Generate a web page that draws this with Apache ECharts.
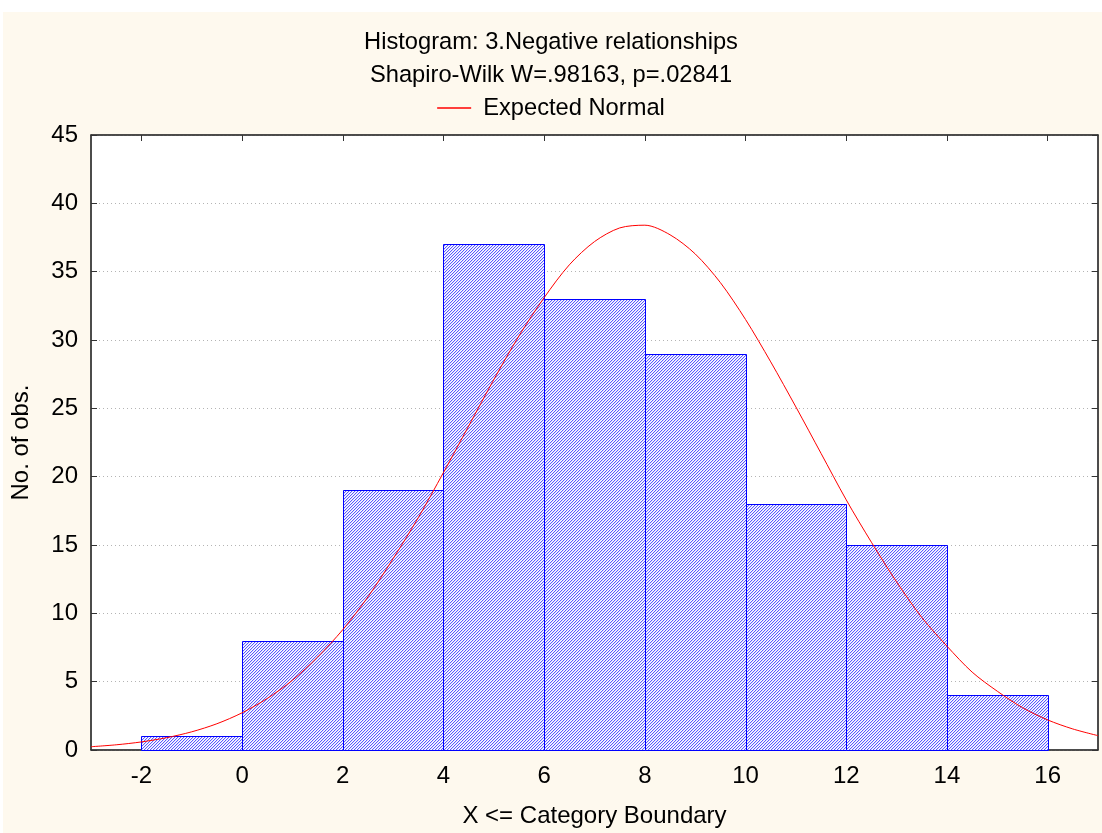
<!DOCTYPE html>
<html>
<head>
<meta charset="utf-8">
<script src="https://cdn.jsdelivr.net/npm/echarts@6/dist/echarts.min.js"></script>
<style>
html,body{margin:0;padding:0;background:#ffffff;}
#c{width:1102px;height:833px;}
</style>
</head>
<body>
<div id="c"></div>
<script>
// Histogram bins: [lower boundary, upper boundary, count]
const binLower = [-2, 0, 2, 4, 6, 8, 10, 12, 14];
const binUpper = [0, 2, 4, 6, 8, 10, 12, 14, 16];
const binCounts = [1, 8, 19, 37, 33, 29, 18, 15, 4];

// Expected normal curve
const curveX = [-3, -2.5, -2, -1.5, -1, -0.5, 0, 0.5, 1, 1.5, 2, 2.5, 3, 3.5, 4, 4.5, 5, 5.5, 6, 6.5, 7, 7.5, 8,
                8.5, 9, 9.5, 10, 10.5, 11, 11.5, 12, 12.5, 13, 13.5, 14, 14.5, 15, 15.5, 16, 16.5, 17];
const curveY = [0.24, 0.38, 0.59, 0.9, 1.33, 1.92, 2.72, 3.77, 5.1, 6.8, 8.8, 11.2, 14.0, 17.0, 20.3, 23.7, 27.1, 30.3, 33.1, 35.5, 37.2, 38.2, 38.4,
                37.7, 36.3, 34.2, 31.5, 28.4, 25.1, 21.7, 18.3, 15.2, 12.3, 9.7, 7.6, 5.7, 4.3, 3.1, 2.2, 1.54, 1.05];

const xTicks = [-2, 0, 2, 4, 6, 8, 10, 12, 14, 16];
const yTicks = [0, 5, 10, 15, 20, 25, 30, 35, 40, 45];

const titleText = 'Histogram: 3.Negative relationships';
const subText = 'Shapiro-Wilk W=.98163, p=.02841';
const legendName = 'Expected Normal';
const xName = 'X <= Category Boundary';
const yName = 'No. of obs.';

// hatch pattern (3px diagonal stripes)
const tile = document.createElement('canvas');
tile.width = 3; tile.height = 3;
const tc = tile.getContext('2d');
tc.fillStyle = '#ffffff';
tc.fillRect(0, 0, 3, 3);
tc.fillStyle = '#5a5aff';
for (let y = 0; y < 3; y++) {
  const x = (2 - y + 3) % 3;
  tc.fillRect(x, y, 1, 1);
}
tc.fillStyle = '#dcdcff';
for (let y = 0; y < 3; y++) {
  const x = (3 - y + 3) % 3;
  tc.fillRect(x, y, 1, 1);
}
const hatch = {image: tile, repeat: 'repeat'};

const bins = binLower.map((l, i) => [l, binUpper[i], binCounts[i]]);
const curve = curveX.map((x, i) => [x, curveY[i]]);

const fontFam = '"Liberation Sans", Arial, sans-serif';
const axisColor = '#333333';
const chart = echarts.init(document.getElementById('c'));
chart.setOption({
  backgroundColor: '#fef9ee',
  animation: false,
  textStyle: {fontFamily: fontFam},
  graphic: [{type: 'rect', shape: {x: 0, y: 0, width: 1102, height: 12}, style: {fill: '#ffffff'}, silent: true, z: -1},
            {type: 'rect', shape: {x: 0, y: 0, width: 3, height: 833}, style: {fill: '#ffffff'}, silent: true, z: -1}],
  title: [
    {text: titleText, left: 'center', top: 25, textStyle: {fontSize: 23.7, fontWeight: 'normal', color: '#000', fontFamily: fontFam}},
    {text: subText, left: 'center', top: 58, textStyle: {fontSize: 23.7, fontWeight: 'normal', color: '#000', fontFamily: fontFam}}
  ],
  legend: {
    data: [{name: legendName, icon: 'rect'}],
    top: 91, left: 'center',
    itemWidth: 34, itemHeight: 1.3, itemGap: 10,
    textStyle: {fontSize: 23.7, color: '#000', fontFamily: fontFam, padding: [0, 0, 0, 7]}
  },
  grid: {left: 91, right: 4, top: 135, bottom: 80, show: true, backgroundColor: '#ffffff', borderColor: axisColor, borderWidth: 1, containLabel: false},
  xAxis: [{
    type: 'value', min: -3, max: 17,
    name: xName, nameLocation: 'middle', nameGap: 54,
    nameTextStyle: {fontSize: 24, color: '#000'},
    axisLine: {show: true, onZero: false, lineStyle: {color: axisColor, width: 1.5}},
    axisTick: {show: true, inside: true, length: 6, lineStyle: {color: axisColor}, customValues: xTicks},
    axisLabel: {fontSize: 24, color: '#000', margin: 14, customValues: xTicks},
    splitLine: {show: false}
  }, {
    type: 'value', min: -3, max: 17, position: 'top',
    axisLine: {show: true, onZero: false, lineStyle: {color: axisColor, width: 1.5}},
    axisTick: {show: true, inside: true, length: 6, lineStyle: {color: axisColor}, customValues: xTicks},
    axisLabel: {show: false}, splitLine: {show: false}
  }],
  yAxis: [{
    type: 'value', min: 0, max: 45, interval: 5,
    name: yName, nameLocation: 'middle', nameGap: 58, nameRotate: 90,
    nameTextStyle: {fontSize: 24, color: '#000'},
    axisLine: {show: true, onZero: false, lineStyle: {color: axisColor, width: 1.5}},
    axisTick: {show: true, inside: true, length: 6, lineStyle: {color: axisColor}, customValues: yTicks},
    axisLabel: {fontSize: 24, color: '#000', margin: 13, customValues: yTicks},
    splitLine: {show: true, lineStyle: {color: '#b4b4b4', type: [1, 3], width: 1}}
  }, {
    type: 'value', min: 0, max: 45, interval: 5, position: 'right',
    axisLine: {show: true, onZero: false, lineStyle: {color: axisColor, width: 1.5}},
    axisTick: {show: true, inside: true, length: 6, lineStyle: {color: axisColor}, customValues: yTicks},
    axisLabel: {show: false}, splitLine: {show: false}
  }],
  series: [{
    type: 'custom',
    name: 'bins',
    data: bins,
    z: 2,
    renderItem: function (params, api) {
      const x0 = api.value(0), x1 = api.value(1), y = api.value(2);
      const p0 = api.coord([x0, y]);
      const p1 = api.coord([x1, 0]);
      return {
        type: 'rect',
        shape: {x: Math.round(p0[0]) + 0.5, y: Math.round(p0[1]) + 0.5, width: Math.round(p1[0]) - Math.round(p0[0]), height: Math.round(p1[1]) - Math.round(p0[1])},
        style: {fill: hatch, stroke: '#0000ff', lineWidth: 1}
      };
    }
  }, {
    type: 'line',
    name: legendName,
    data: curve,
    smooth: 0.3,
    showSymbol: false,
    z: 3,
    lineStyle: {color: '#ff0000', width: 1},
    itemStyle: {color: '#ff0000'}
  }]
});
</script>
</body>
</html>
